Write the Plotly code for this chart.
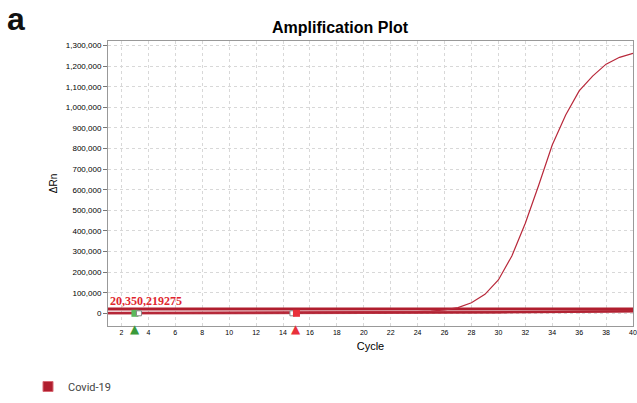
import plotly.graph_objects as go

cycles = list(range(1, 41))
covid_drn = [2000, 2200, 2100, 2300, 2400, 2300, 2500, 2600, 2500, 2700,
             2800, 2900, 3000, 3100, 3200, 3400, 3600, 3800, 4100, 4500,
             5000, 5600, 6500, 8000, 11000, 17000, 28000, 51000, 92000, 162000,
             278000, 437000, 623000, 817000, 963000, 1080000, 1152000, 1210000, 1243000, 1262000]
ntc_a = [3000, 3000, 3100, 3100, 3200, 3200, 3300, 3300, 3400, 3400,
         3500, 3600, 3700, 3800, 3900, 4000, 4100, 4200, 4300, 4400,
         4500, 4600, 4700, 4800, 4900, 5000, 5200, 5400, 5600, 5800,
         6000, 6300, 6600, 6900, 7200, 7600, 8000, 8500, 9000, 9500]
ntc_b = [500, 500, 600, 600, 700, 700, 800, 800, 900, 900,
         1000, 1100, 1200, 1300, 1400, 1500, 1600, 1700, 1800, 1900,
         2000, 2200, 2400, 2600, 2800, 3000, 3300, 3600, 3900, 4200,
         4600, 5000, 5500, 6000, 6600, 7200, 7900, 8600, 9400, 10500]
threshold = 20350.219275
threshold_label = "20,350,219275"
baseline_start = 3
baseline_end = 15
y_ticks = list(range(0, 1300001, 100000))
x_ticks = list(range(2, 41, 2))

red = "#b01e2e"

fig = go.Figure()
fig.add_trace(go.Scatter(x=cycles, y=ntc_b, mode="lines", line=dict(color=red, width=2.5), opacity=0.85, showlegend=False, hoverinfo="skip"))
fig.add_trace(go.Scatter(x=cycles, y=ntc_a, mode="lines", line=dict(color=red, width=2), opacity=0.85, showlegend=False, hoverinfo="skip"))
fig.add_trace(go.Scatter(x=[cycles[0], cycles[-1]], y=[threshold, threshold], mode="lines",
                         line=dict(color=red, width=3), showlegend=False, hoverinfo="skip"))
fig.add_trace(go.Scatter(x=cycles, y=covid_drn, mode="lines", line=dict(color="#b8283a", width=1.2),
                         showlegend=False))
# baseline markers
fig.add_trace(go.Scatter(x=[baseline_start], y=[0], mode="markers",
                         marker=dict(symbol="square", size=7, color="#5cb85c", line=dict(width=0)),
                         showlegend=False, cliponaxis=False))
fig.add_trace(go.Scatter(x=[baseline_start + 0.3, baseline_end - 0.3], y=[0, 0], mode="markers",
                         marker=dict(symbol="square", size=5, color="white", line=dict(color="#888", width=1)),
                         showlegend=False, cliponaxis=False))
fig.add_trace(go.Scatter(x=[baseline_end], y=[0], mode="markers",
                         marker=dict(symbol="square", size=7, color="#e8303a", line=dict(width=0)),
                         showlegend=False, cliponaxis=False))
# baseline triangles below the axis
for bx, col in [(baseline_start, "#3a9a3a"), (baseline_end, "#e8303a")]:
    fig.add_annotation(x=bx, y=0, xref="x", yref="paper", text="▲", showarrow=False,
                       xanchor="center", yanchor="top", yshift=6,
                       font=dict(family="DejaVu Sans", size=12, color=col))
# legend entry
fig.add_trace(go.Scatter(x=[None], y=[None], mode="markers", name="Covid-19",
                         marker=dict(symbol="square", size=10, color="#b01e2e", line=dict(color="#d86a74", width=1))))

fig.add_annotation(x=1, y=threshold, xref="x", yref="y", text=threshold_label, showarrow=False,
                   xanchor="left", yanchor="bottom", yshift=-1,
                   font=dict(family="Liberation Serif", size=12, color="#e0262f", weight="bold"))
fig.add_annotation(x=(6 - 108) / 525, y=326 / 285, xref="paper", yref="paper", yanchor="top", xanchor="left",
                   text="<b>a</b>", showarrow=False, borderpad=0,
                   font=dict(family="Liberation Sans", size=32, color="#111"))

fig.update_layout(
    width=637, height=403,
    margin=dict(l=108, r=4, t=41, b=77, autoexpand=False),
    paper_bgcolor="white", plot_bgcolor="white",
    title=dict(text="<b>Amplification Plot</b>", x=340/637, xanchor="center", xref="container",
               y=1 - 27/403, yanchor="middle", yref="container",
               font=dict(family="Liberation Sans", size=16, color="#000")),
    font=dict(family="Liberation Sans", color="#000"),
    xaxis=dict(range=[1, 40], tickvals=x_ticks, tickfont=dict(size=7), showgrid=True,
               gridcolor="#d8d8d8", griddash="dot", gridwidth=1, zeroline=False, automargin=False,
               showline=True, linecolor="#999", mirror=True, ticks="", ticklen=3,
               title=dict(text="Cycle", font=dict(size=11), standoff=6)),
    yaxis=dict(range=[-61600, 1322300], tickvals=y_ticks, tickformat=",d", tickfont=dict(size=8),
               showgrid=True, gridcolor="#d8d8d8", griddash="dot", gridwidth=1, zeroline=False, automargin=False,
               showline=True, linecolor="#999", mirror=True, ticks="outside", ticklen=4, tickcolor="#777",
               title=dict(text="ΔRn", font=dict(size=10), standoff=6)),
    showlegend=True,
    legend=dict(xref="container", yref="container", x=28/637, y=1 - 372/403, xanchor="left", yanchor="top",
                orientation="h", font=dict(family="Roboto", size=11, color="#444"), itemwidth=30),
)

fig.write_html("out.html", config={"displayModeBar": False},
               post_script="document.body.style.margin='0';document.body.style.overflow='hidden';")
